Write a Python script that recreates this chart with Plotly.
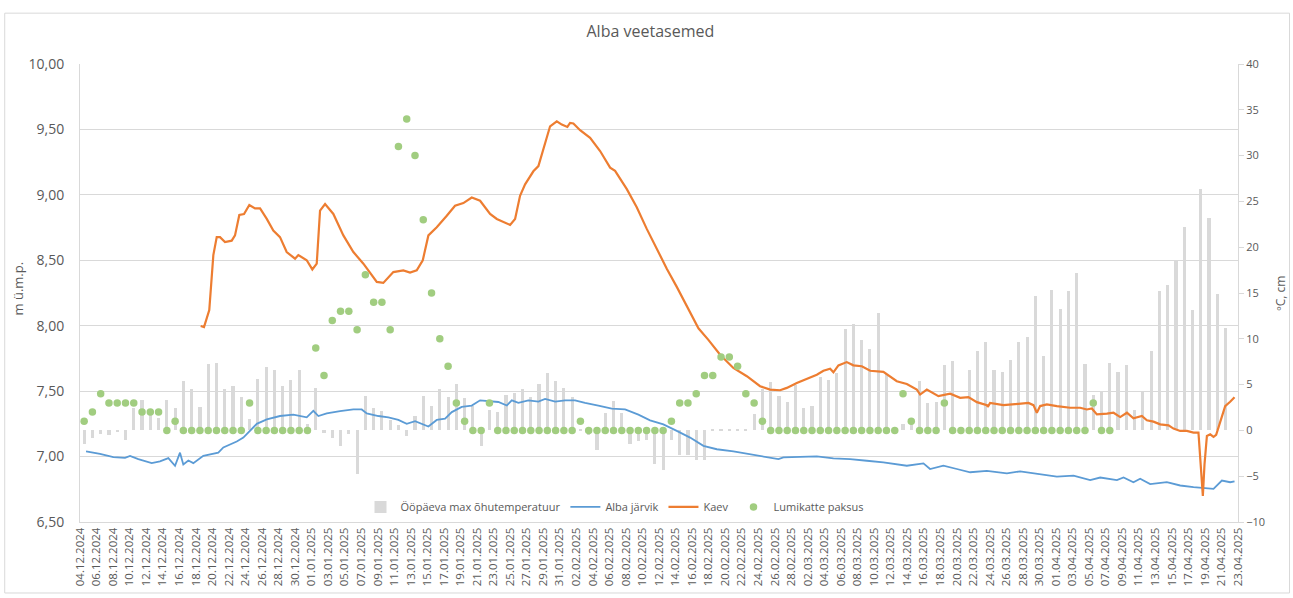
import pandas as pd
import plotly.graph_objects as go

# ---------------- data ----------------
START = "2024-12-04"
END = "2025-04-23"

# daily max air temperature (ºC), one value per day from 04.12.2024
temp_max = [-1.5, -0.85, -0.4, -0.5, -0.15, -1.0, 2.4, 3.3, 1.9, 1.4,
            3.3, 2.4, 5.4, 4.5, 2.6, 7.2, 7.4, 4.5, 4.8, 3.7,
            1.2, 5.6, 6.9, 6.6, 4.8, 5.5, 6.6, 0.7, 4.6, -0.25,
            -0.85, -1.7, -0.4, -4.75, 3.75, 2.4, 2.1, 1.1, 0.55, -0.6,
            1.6, 3.75, 2.65, 4.5, 3.6, 5.1, 3.5, 2.65, -1.7, 2.2,
            2.0, 3.9, 4.1, 4.5, 3.7, 5.1, 6.3, 5.4, 4.6, 3.7,
            0.2, -0.5, -2.15, 1.9, 3.2, 1.9, -1.5, -1.2, -1.0, -3.7,
            -4.3, -1.0, -2.7, -2.7, -3.2, -3.2, 0.15, 0.15, 0.15, 0.15,
            0.15, 1.8, 4.5, 5.3, 3.8, 3.1, 5.0, 2.4, 2.65, 5.8,
            5.55, 6.3, 11.1, 11.6, 9.9, 8.9, 12.8, 6.2, 0.4, 0.7,
            1.3, 5.4, 3.0, 3.1, 7.1, 7.6, 0.3, 6.6, 8.7, 9.7,
            6.6, 6.4, 7.7, 9.7, 10.2, 14.7, 8.1, 15.3, 13.2, 15.2,
            17.2, 7.2, 3.9, 4.2, 7.4, 6.4, 7.1, 2.2, 4.2, 8.7,
            15.2, 15.9, 18.6, 22.2, 13.1, 26.3, 23.2, 14.9, 11.2]

# daily snow depth (cm), one value per day from 04.12.2024
snow_cm = [1, 2, 4, 3, 3, 3, 3, 2, 2, 2,
           0, 1, 0, 0, 0, 0, 0, 0, 0, 0,
           3, 0, 0, 0, 0, 0, 0, 0, 9, 6,
           12, 13, 13, 11, 17, 14, 14, 11, 31, 34,
           30, 23, 15, 10, 7, 3, 1, 0, 0, 3,
           0, 0, 0, 0, 0, 0, 0, 0, 0, 0,
           1, 0, 0, 0, 0, 0, 0, 0, 0, 0,
           0, 1, 3, 3, 4, 6, 6, 8, 8, 7,
           4, 3, 1, 0, 0, 0, 0, 0, 0, 0,
           0, 0, 0, 0, 0, 0, 0, 0, 0, 4,
           1, 0, 0, 0, 3, 0, 0, 0, 0, 0,
           0, 0, 0, 0, 0, 0, 0, 0, 0, 0,
           0, 0, 3, 0, 0]

# Alba järvik water level (m ü.m.p.); time as days since 04.12.2024 00:00
jarvik_day = [0.73, 2.42, 4.03, 5.44, 6.05, 7.05, 8.67, 9.67, 10.68, 11.49,
              12.09, 12.49, 13.1, 13.7, 14.91, 16.12, 16.72, 17.33, 18.14, 18.95,
              19.75, 20.56, 21.37, 22.58, 24.18, 25.79, 27.41, 28.21, 28.82, 29.83,
              31.44, 33.05, 34.06, 34.67, 36.07, 37.28, 38.49, 39.5, 40.51, 42.12,
              43.13, 44.14, 44.95, 46.15, 47.36, 48.37, 49.37, 50.58, 51.6, 52.2,
              53.0, 54.21, 55.42, 56.23, 57.44, 58.65, 59.85, 61.06, 62.67, 64.29,
              65.9, 67.51, 68.92, 70.53, 72.15, 73.76, 75.37, 76.99, 79.0, 81.02,
              83.03, 84.44, 85.04, 87.06, 89.08, 91.09, 93.1, 95.13, 97.13, 99.96,
              101.97, 102.77, 104.38, 106.01, 107.62, 109.64, 112.06, 113.66, 116.08, 118.1,
              120.11, 122.13, 123.34, 125.36, 126.16, 127.36, 128.17, 129.38, 131.4, 133.01,
              134.62, 135.83, 137.04, 138.05, 139.05, 139.58]
jarvik_m = [7.04, 7.02, 6.995, 6.99, 7.005, 6.98, 6.95, 6.963, 6.988, 6.93,
            7.03, 6.94, 6.97, 6.95, 7.006, 7.02, 7.03, 7.07, 7.09, 7.115,
            7.145, 7.20, 7.25, 7.284, 7.31, 7.32, 7.30, 7.35, 7.31, 7.33,
            7.348, 7.36, 7.36, 7.33, 7.31, 7.30, 7.28, 7.25, 7.27, 7.23,
            7.28, 7.29, 7.34, 7.38, 7.39, 7.43, 7.424, 7.417, 7.39, 7.43,
            7.41, 7.43, 7.42, 7.44, 7.42, 7.43, 7.43, 7.41, 7.39, 7.366,
            7.36, 7.32, 7.277, 7.246, 7.196, 7.145, 7.082, 7.056, 7.04, 7.019,
            7.0, 6.98, 6.994, 7.0, 7.001, 6.986, 6.98, 6.968, 6.955, 6.93,
            6.948, 6.905, 6.93, 6.905, 6.88, 6.89, 6.872, 6.887, 6.867, 6.847,
            6.855, 6.82, 6.84, 6.82, 6.84, 6.804, 6.83, 6.79, 6.804, 6.779,
            6.766, 6.76, 6.753, 6.817, 6.804, 6.81]

# Kaev (well) water level (m ü.m.p.); time as days since 04.12.2024 00:00
kaev_day = [14.59, 14.99, 15.63, 16.12, 16.53, 16.93, 17.53, 18.34, 18.74, 19.26,
            19.83, 20.47, 21.16, 21.77, 22.58, 23.37, 24.18, 24.99, 26.0, 26.4,
            27.41, 28.09, 28.62, 29.02, 29.63, 30.63, 31.84, 33.05, 34.26, 35.07,
            35.88, 36.67, 37.88, 39.09, 39.9, 40.71, 41.44, 42.12, 43.13, 44.34,
            45.34, 46.35, 47.36, 48.37, 49.58, 50.39, 51.19, 52.0, 52.6, 53.2,
            53.81, 54.81, 55.42, 56.02, 56.83, 57.64, 58.25, 58.92, 59.25, 59.65,
            60.46, 61.67, 62.88, 64.09, 64.69, 66.11, 67.31, 68.52, 69.73, 70.94,
            72.15, 73.36, 74.77, 75.97, 77.39, 78.99, 80.62, 82.22, 83.43, 84.64,
            85.45, 86.66, 87.87, 89.08, 89.88, 90.69, 91.09, 91.69, 92.7, 93.5,
            94.52, 95.53, 97.13, 97.94, 98.75, 99.96, 101.17, 101.57, 102.38, 103.78,
            105.2, 106.41, 107.41, 108.43, 109.64, 109.75, 110.03, 111.64, 112.66, 113.66,
            114.67, 115.27, 115.68, 116.08, 116.89, 118.1, 119.71, 120.92, 121.73, 122.33,
            122.94, 124.15, 124.95, 125.76, 126.57, 127.36, 128.38, 128.98, 129.78, 130.59,
            131.6, 132.2, 133.01, 133.82, 134.62, 135.22, 135.51, 135.75, 135.95, 136.24,
            136.64, 137.04, 137.36, 137.85, 138.45, 139.05, 139.58]
kaev_m = [7.998, 7.99, 8.12, 8.54, 8.677, 8.677, 8.64, 8.65, 8.69, 8.846,
          8.854, 8.922, 8.897, 8.897, 8.816, 8.727, 8.677, 8.563, 8.512, 8.54,
          8.5, 8.43, 8.474, 8.879, 8.93, 8.854, 8.69, 8.563, 8.474, 8.4,
          8.335, 8.327, 8.41, 8.423, 8.406, 8.423, 8.5, 8.69, 8.753, 8.84,
          8.917, 8.937, 8.98, 8.955, 8.854, 8.816, 8.795, 8.77, 8.816, 8.993,
          9.08, 9.18, 9.22, 9.347, 9.524, 9.562, 9.537, 9.519, 9.55, 9.545,
          9.494, 9.436, 9.335, 9.208, 9.183, 9.044, 8.905, 8.74, 8.588, 8.436,
          8.297, 8.145, 7.98, 7.892, 7.778, 7.677, 7.614, 7.538, 7.512, 7.507,
          7.525, 7.563, 7.596, 7.626, 7.656, 7.672, 7.644, 7.697, 7.722, 7.697,
          7.69, 7.656, 7.647, 7.614, 7.576, 7.555, 7.512, 7.474, 7.512, 7.462,
          7.48, 7.449, 7.454, 7.416, 7.393, 7.38, 7.41, 7.393, 7.398, 7.404,
          7.41, 7.393, 7.335, 7.386, 7.398, 7.386, 7.373, 7.373, 7.36, 7.368,
          7.322, 7.328, 7.335, 7.302, 7.335, 7.292, 7.31, 7.277, 7.267, 7.246,
          7.239, 7.214, 7.196, 7.196, 7.183, 7.183, 6.94, 6.70, 6.94, 7.158,
          7.17, 7.15, 7.166, 7.272, 7.386, 7.419, 7.454]

# ---------------- figure ----------------
start = pd.Timestamp(START)
daily_temp_x = pd.date_range(start + pd.Timedelta(hours=12), periods=len(temp_max), freq="D")
daily_snow_x = pd.date_range(start + pd.Timedelta(hours=12), periods=len(snow_cm), freq="D")
jarvik_x = start + pd.to_timedelta(jarvik_day, unit="D")
kaev_x = start + pd.to_timedelta(kaev_day, unit="D")

GRAY_TXT = "#595959"
FONT = "Open Sans"

fig = go.Figure()
fig.add_trace(go.Bar(x=daily_temp_x, y=temp_max, name="Ööpäeva max õhutemperatuur",
                     marker=dict(color="#d9d9d9", line=dict(width=0)),
                     width=0.38 * 86400000, yaxis="y"))
fig.add_trace(go.Scatter(x=jarvik_x, y=jarvik_m, name="Alba järvik", mode="lines",
                         line=dict(color="#5b9bd5", width=1.8), yaxis="y2"))
fig.add_trace(go.Scatter(x=kaev_x, y=kaev_m, name="Kaev", mode="lines",
                         line=dict(color="#ed7d31", width=2.2), yaxis="y2"))
fig.add_trace(go.Scatter(x=daily_snow_x, y=snow_cm, name="Lumikatte paksus", mode="markers",
                         marker=dict(color="#a1cd80", size=7.5, line=dict(width=0)),
                         yaxis="y3"))

fig.update_layout(
    width=1293, height=598,
    margin=dict(l=80, r=55, t=64, b=73),
    paper_bgcolor="white", plot_bgcolor="white",
    font=dict(family=FONT, color=GRAY_TXT),
    separators=", ",
    bargap=0,
    title=dict(text="Alba veetasemed", x=0.503, xanchor="center", y=0.948, yanchor="middle",
               font=dict(size=16, color=GRAY_TXT, family=FONT)),
    xaxis=dict(type="date", range=[START, END], tick0=START, dtick=2 * 86400000,
               tickformat="%d.%m.%Y", tickangle=-90, tickfont=dict(size=11.5, color=GRAY_TXT),
               showgrid=False, showline=True, linecolor="#d9d9d9", linewidth=1,
               ticks="", zeroline=False),
    yaxis=dict(side="right", range=[-10, 40], dtick=5, showgrid=False, zeroline=False,
               showline=True, linecolor="#d9d9d9", ticks="outside", ticklen=5,
               tickcolor="#d9d9d9", tickfont=dict(size=11, color=GRAY_TXT)),
    yaxis2=dict(overlaying="y", side="left", range=[6.5, 10], dtick=0.5, tickformat=".2f",
                showgrid=True, gridcolor="#d9d9d9", gridwidth=1, zeroline=False,
                showline=True, linecolor="#d9d9d9", ticks="", ticklabelstandoff=12,
                tickfont=dict(size=14, color=GRAY_TXT)),
    yaxis3=dict(overlaying="y", range=[-10, 40], visible=False),
    legend=dict(orientation="h", x=0.462, xanchor="center", y=0.033, yanchor="middle",
                bgcolor="rgba(0,0,0,0)", font=dict(size=11, color=GRAY_TXT),
                itemwidth=30, tracegroupgap=0),
    showlegend=True,
    annotations=[
        dict(text="m ü.m.p.", xref="paper", yref="paper", x=-0.0535, y=0.51,
             xanchor="center", yanchor="middle",
             textangle=-90, showarrow=False, font=dict(size=13, color=GRAY_TXT)),
        dict(text="ºC, cm", xref="paper", yref="paper", x=1.036, y=0.5,
             xanchor="center", yanchor="middle",
             textangle=-90, showarrow=False, font=dict(size=12, color=GRAY_TXT)),
    ],
    shapes=[dict(type="rect", xref="paper", yref="paper",
                 x0=-0.065, x1=1.0445, y0=-0.155, y1=1.111,
                 line=dict(color="#d9d9d9", width=1), fillcolor="rgba(0,0,0,0)", layer="below")],
)

fig.write_html("out.html", config={"displayModeBar": False},
               post_script="document.body.style.margin='0';")
